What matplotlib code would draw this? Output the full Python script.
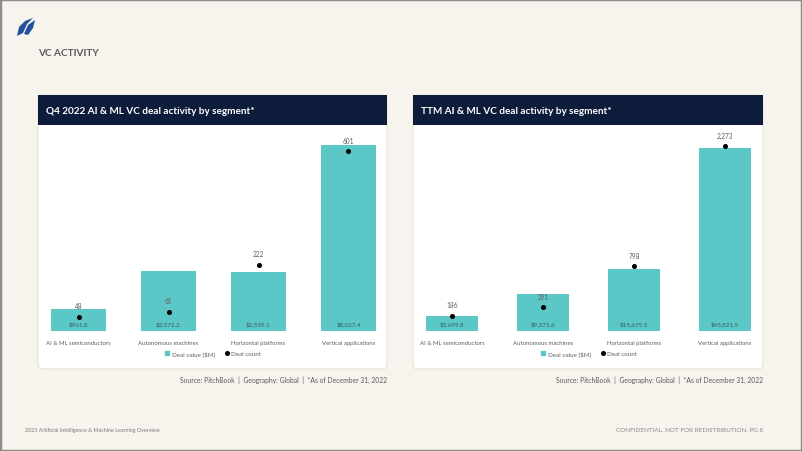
import matplotlib
matplotlib.use("Agg")
import matplotlib.pyplot as plt
from matplotlib.patches import FancyBboxPatch, Rectangle, Polygon
from matplotlib.lines import Line2D
from matplotlib.font_manager import fontManager

# ---------------- data ----------------
categories = ["AI & ML semiconductors", "Autonomous machines",
              "Horizontal platforms", "Vertical applications"]
q4_value = [961.8, 2572.2, 2539.1, 8027.4]
q4_count = [48, 65, 222, 601]
ttm_value = [3699.8, 9371.6, 15679.5, 45821.9]
ttm_count = [186, 291, 798, 2273]

title_left = "Q4 2022 AI & ML VC deal activity by segment*"
title_right = "TTM AI & ML VC deal activity by segment*"
source_text = "Source: PitchBook  |  Geography: Global  |  *As of December 31, 2022"
legend_labels = ["Deal value ($M)", "Deal count"]

# ---------------- style ----------------
W, H = 802, 452
BG = "#F7F4EE"
NAVY = "#0D1C3A"
TEAL = "#5BC8C7"
GREY = "#5E5E5E"
names = {f.name for f in fontManager.ttflist}
MAIN = "Lato" if "Lato" in names else "DejaVu Sans"
NARROW = "Liberation Sans Narrow" if "Liberation Sans Narrow" in names else MAIN

fig = plt.figure(figsize=(W / 100, H / 100), dpi=100, facecolor=BG)


def fx(x):
    return x / W


def fy(y):
    return 1 - y / H


def add_patch(p, z=-5):
    p.set_zorder(z)
    fig.patches.append(p)


# outer frame
fig.patches.append(Rectangle((0, 0), 1, 1, transform=fig.transFigure,
                             fill=False, edgecolor="#8C8C8C", linewidth=2.5,
                             zorder=10))

# logo (decorative)
add_patch(Polygon([(fx(17), fy(37)), (fx(19), fy(28)), (fx(25), fy(22)),
                   (fx(33), fy(19)), (fx(27), fy(25)), (fx(23), fy(34))],
                  closed=True, transform=fig.transFigure,
                  facecolor="#24509E", edgecolor="none"))
add_patch(Polygon([(fx(24), fy(35)), (fx(28), fy(26)), (fx(35), fy(21)),
                   (fx(33), fy(29)), (fx(28), fy(36))],
                  closed=True, transform=fig.transFigure,
                  facecolor="#24509E", edgecolor="none"))

fig.text(fx(38), fy(54), "VC ACTIVITY", fontsize=7.2,
         color="#5A5A5A", fontweight="bold", family=MAIN, va="center", ha="left")

fig.text(fx(25), fy(431), "2023 Artificial Intelligence & Machine Learning Overview",
         fontsize=3.9, color="#7A7A7A", family=NARROW, va="center", ha="left")
fig.text(fx(763), fy(431), "CONFIDENTIAL. NOT FOR REDISTRIBUTION. PG 8",
         fontsize=4.6, color="#8A8A8A", family=MAIN, va="center", ha="right")


def panel(x0, x1, title, values, counts, vmax, cmax, ax_x0, ax_x1, bar_w, legend_cx):
    y0, y1 = 96, 370
    # white panel
    add_patch(FancyBboxPatch((fx(x0), fy(y1)), fx(x1 - x0), (y1 - y0) / H,
                             boxstyle="round,pad=0,rounding_size=0.008",
                             transform=fig.transFigure, facecolor="white",
                             edgecolor="#E6E2D9", linewidth=0.8))
    # header band
    add_patch(Rectangle((fx(x0), fy(126)), fx(x1 - x0), 30 / H,
                        transform=fig.transFigure, facecolor=NAVY,
                        edgecolor="none"), z=-4)
    fig.text(fx(x0 + 8), fy(111), title, color="white", fontsize=7.2,
             fontweight="bold", family=MAIN, va="center", ha="left")
    fig.text(fx(x1), fy(380), source_text, color="#5A5A5A", fontsize=4.9,
             family=NARROW, va="center", ha="right")

    ax = fig.add_axes([fx(ax_x0), fy(332), fx(ax_x1 - ax_x0), (332 - 125) / H])
    ax.patch.set_alpha(0)
    xs = list(range(len(categories)))
    ax.bar(xs, values, width=bar_w, color=TEAL, zorder=2)
    ax.set_ylim(0, vmax)
    ax.set_xlim(-0.35, 3.35)
    for s in ax.spines.values():
        s.set_visible(False)
    ax.set_yticks([])
    ax.set_xticks(xs)
    ax.set_xticklabels(categories, fontsize=4.3, color=GREY, family=NARROW)
    ax.tick_params(axis="x", length=0, pad=6.5)
    for x, v in zip(xs, values):
        ax.annotate(f"${v:,.1f}", (x, 0), xytext=(0, 5.5), textcoords="offset points",
                    ha="center", va="center", fontsize=4.5, color="#355E5E",
                    family=NARROW, zorder=4)

    ax2 = ax.twinx()
    ax2.set_ylim(0, cmax)
    ax2.plot(xs, counts, linestyle="none", marker="o", markersize=2.6,
             color="black", zorder=5)
    for x, c in zip(xs, counts):
        ax2.annotate(f"{c:,}", (x, c), xytext=(0, 8), textcoords="offset points",
                     ha="center", va="center", fontsize=4.7, color=GREY,
                     family=NARROW)
    for s in ax2.spines.values():
        s.set_visible(False)
    ax2.set_yticks([])

    handles = [Line2D([], [], linestyle="none", marker="s", markersize=3,
                      color=TEAL),
               Line2D([], [], linestyle="none", marker="o", markersize=2.6,
                      color="black")]
    fig.legend(handles, legend_labels, loc="center",
               bbox_to_anchor=(fx(legend_cx), fy(354)), ncol=2, frameon=False,
               prop={"family": NARROW, "size": 4.5}, labelcolor=GREY,
               handletextpad=0.35, columnspacing=1.4, handlelength=0.8)


panel(38, 387, title_left, q4_value, q4_count, 8920, 692, 47, 380, 0.62, 213)
panel(413, 763, title_right, ttm_value, ttm_count, 51970, 2547, 420, 757, 0.57, 589)

fig.savefig("out.png", dpi=100, facecolor=BG)
